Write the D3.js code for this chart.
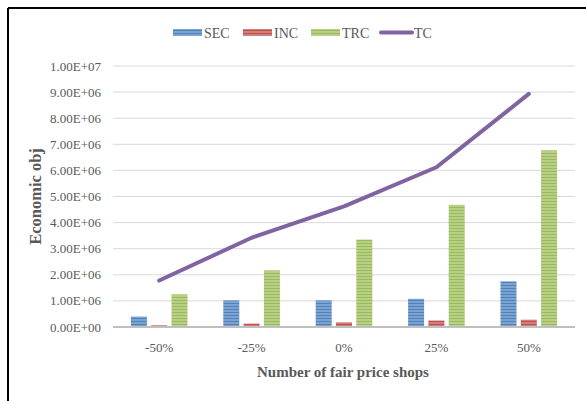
<!DOCTYPE html>
<html>
<head>
<meta charset="utf-8">
<script src="https://cdn.jsdelivr.net/npm/d3@7"></script>
<style>
  body { margin: 0; background: #fff; }
  text { font-family: "Liberation Serif", "Times New Roman", serif; fill: #595959; }
</style>
</head>
<body>
<div id="chart"></div>
<script>
// values (units of 1E6)
var categories = ["-50%", "-25%", "0%", "25%", "50%"];
var sec = [0.40, 1.02, 1.02, 1.08, 1.75];
var inc = [0.07, 0.13, 0.18, 0.25, 0.28];
var trc = [1.25, 2.17, 3.35, 4.68, 6.77];
var tc = [1.78, 3.42, 4.62, 6.12, 8.93];
var yTicks = [0, 1, 2, 3, 4, 5, 6, 7, 8, 9, 10];

var W = 586, H = 401;
var margin = {top: 66, right: 11, bottom: 74, left: 113};
var width = W - margin.left - margin.right;
var height = H - margin.top - margin.bottom;

var svg = d3.select("#chart").append("svg")
  .attr("width", W)
  .attr("height", H);

// stripe patterns for the bars
var defs = svg.append("defs");
var barSeries = [
  {key: "SEC", values: sec, color: "#4f81bd", light: "#a9c3e3"},
  {key: "INC", values: inc, color: "#c0504d", light: "#e3a9a7"},
  {key: "TRC", values: trc, color: "#9bbb59", light: "#d3e3b3"}
];
barSeries.forEach(function(s) {
  var p = defs.append("pattern")
    .attr("id", "pat" + s.key)
    .attr("patternUnits", "userSpaceOnUse")
    .attr("width", 4).attr("height", 3);
  p.append("rect").attr("width", 4).attr("height", 3).attr("fill", s.color);
  p.append("rect").attr("y", 1.5).attr("width", 4).attr("height", 1).attr("fill", s.light);
});

// frame (right and bottom edges fall outside the picture)
svg.append("line").attr("x1", 8).attr("x2", W).attr("y1", 8).attr("y2", 8)
  .attr("stroke", "#000").attr("stroke-width", 2);
svg.append("line").attr("x1", 8).attr("x2", 8).attr("y1", 8).attr("y2", H)
  .attr("stroke", "#000").attr("stroke-width", 2);

var g = svg.append("g")
  .attr("transform", "translate(" + margin.left + "," + margin.top + ")");

var x = d3.scaleBand().domain(categories).range([0, width]);
var y = d3.scaleLinear().domain([0, 10]).range([height, 0]);

// gridlines
g.selectAll(".grid").data(yTicks.slice(1)).enter().append("line")
  .attr("class", "grid")
  .attr("x1", 0).attr("x2", width)
  .attr("y1", function(d) { return y(d); })
  .attr("y2", function(d) { return y(d); })
  .attr("stroke", "#d9d9d9").attr("stroke-width", 1);

// y labels
g.selectAll(".ylab").data(yTicks).enter().append("text")
  .attr("class", "ylab")
  .attr("x", -12)
  .attr("y", function(d) { return y(d); })
  .attr("dy", "0.35em")
  .attr("text-anchor", "end")
  .style("font-size", "13px")
  .text(function(d) { return (d === 10 ? "1.00E+07" : d.toFixed(2) + "E+06").replace("0.00E+06", "0.00E+00"); });

// bars
var barW = 16, step = 20.3;
barSeries.forEach(function(s, i) {
  g.selectAll(".bar" + s.key).data(s.values).enter().append("rect")
    .attr("x", function(d, j) { return x(categories[j]) + x.bandwidth() / 2 + (i - 1) * step - barW / 2; })
    .attr("y", function(d) { return y(d); })
    .attr("width", barW)
    .attr("height", function(d) { return height - y(d); })
    .attr("fill", "url(#pat" + s.key + ")");
});

// x axis line
g.append("line").attr("x1", 0).attr("x2", width)
  .attr("y1", height).attr("y2", height)
  .attr("stroke", "#bfbfbf").attr("stroke-width", 2);

// x labels
g.selectAll(".xlab").data(categories).enter().append("text")
  .attr("x", function(d) { return x(d) + x.bandwidth() / 2; })
  .attr("y", height + 25)
  .attr("text-anchor", "middle")
  .style("font-size", "13px")
  .text(function(d) { return d; });

// TC line
var line = d3.line()
  .x(function(d, i) { return x(categories[i]) + x.bandwidth() / 2; })
  .y(function(d) { return y(d); });
g.append("path").datum(tc)
  .attr("d", line)
  .attr("fill", "none")
  .attr("stroke", "#8064a2")
  .attr("stroke-width", 4)
  .attr("stroke-linejoin", "round")
  .attr("stroke-linecap", "round");

// axis titles
svg.append("text")
  .attr("transform", "translate(41," + (margin.top + height / 2) + ") rotate(-90)")
  .attr("text-anchor", "middle")
  .style("font-size", "16.5px").style("font-weight", "bold")
  .text("Economic obj");
svg.append("text")
  .attr("x", 343).attr("y", 377)
  .attr("text-anchor", "middle")
  .style("font-size", "15px").style("font-weight", "bold")
  .text("Number of fair price shops");

// legend
var legend = [
  {key: "SEC", x: 173, type: "bar"},
  {key: "INC", x: 243, type: "bar"},
  {key: "TRC", x: 311, type: "bar"},
  {key: "TC", x: 381, type: "line"}
];
var lg = svg.append("g");
legend.forEach(function(l) {
  if (l.type === "bar") {
    lg.append("rect").attr("x", l.x).attr("y", 29).attr("width", 29).attr("height", 7)
      .attr("fill", "url(#pat" + l.key + ")");
  } else {
    lg.append("line").attr("x1", l.x).attr("x2", l.x + 31).attr("y1", 32.5).attr("y2", 32.5)
      .attr("stroke", "#8064a2").attr("stroke-width", 4).attr("stroke-linecap", "round");
  }
  lg.append("text").attr("x", l.x + (l.type === "bar" ? 31 : 33)).attr("y", 33)
    .attr("dy", "0.35em").style("font-size", "14px").text(l.key);
});
</script>
</body>
</html>
